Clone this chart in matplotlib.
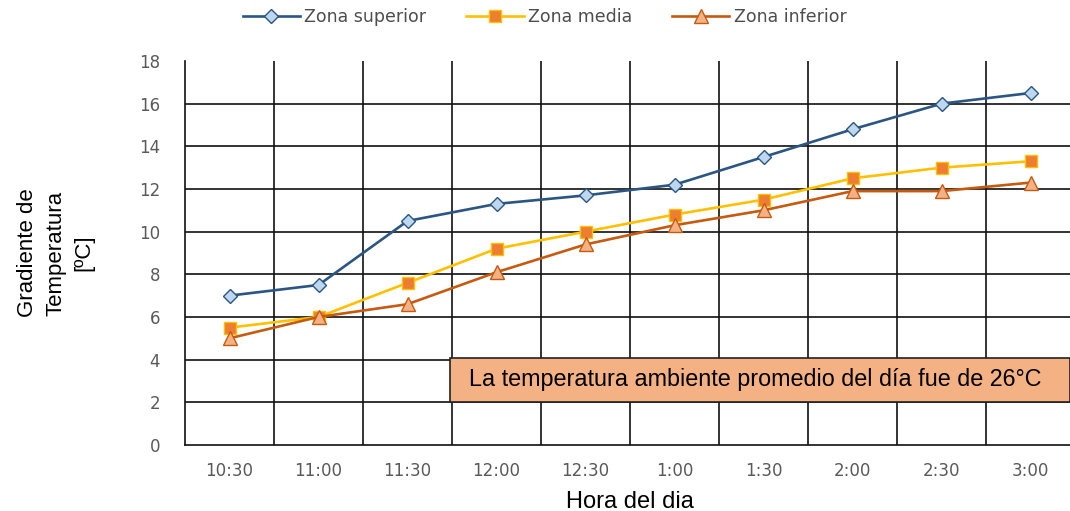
import matplotlib.pyplot as plt
import numpy as np

horas = ["10:30", "11:00", "11:30", "12:00", "12:30", "1:00", "1:30", "2:00", "2:30", "3:00"]
zona_superior = [7.0, 7.5, 10.5, 11.3, 11.7, 12.2, 13.5, 14.8, 16.0, 16.5]
zona_media = [5.5, 6.0, 7.6, 9.2, 10.0, 10.8, 11.5, 12.5, 13.0, 13.3]
zona_inferior = [5.0, 6.0, 6.6, 8.1, 9.4, 10.3, 11.0, 11.9, 11.9, 12.3]

fig = plt.figure(figsize=(10.7, 5.11), dpi=100)
ax = fig.add_axes([0.1729, 0.1292, 0.832, 0.7515])

x = np.arange(len(horas))
ax.plot(x, zona_superior, color="#2B5582", lw=1.9, marker="D", ms=7.5,
        mfc="#BDD7EE", mec="#2B5582", mew=1.0, label="Zona superior", zorder=5)
ax.plot(x, zona_media, color="#FFC000", lw=1.9, marker="s", ms=8.5,
        mfc="#ED7D31", mec="#FFC000", mew=1.0, label="Zona media", zorder=5)
ax.plot(x, zona_inferior, color="#C55A11", lw=1.9, marker="^", ms=10,
        mfc="#F4B183", mec="#C55A11", mew=1.0, label="Zona inferior", zorder=5)

ax.set_xlim(-0.5, len(horas) - 0.5)
ax.set_ylim(0, 18)
ax.set_yticks(range(0, 19, 2))
ax.set_xticks(x)
ax.set_xticklabels(horas)
ax.set_xticks(np.arange(0.5, len(horas) - 0.5, 1), minor=True)

# grilla negra: horizontales en cada 2, verticales entre categorias
for yv in range(2, 17, 2):
    ax.axhline(yv, color="#111111", lw=1.2, zorder=1)
ax.grid(True, which="minor", axis="x", color="#111111", lw=1.2, zorder=1)

for s in ["top", "right"]:
    ax.spines[s].set_visible(False)
for s in ["left", "bottom"]:
    ax.spines[s].set_color("#111111")
    ax.spines[s].set_linewidth(1.2)

ax.tick_params(which="both", length=0)
ax.tick_params(axis="y", pad=18, labelsize=12, labelcolor="#595959")
ax.tick_params(axis="x", pad=12, labelsize=12, labelcolor="#595959")

ax.set_xlabel("Hora del dia", family="Liberation Sans", fontsize=17, labelpad=8)
fig.text(0.052, 0.505, "Gradiente de\nTemperatura\n[ºC]", rotation=90,
         family="Liberation Sans", fontsize=16, ha="center", va="center",
         linespacing=1.45, multialignment="center")

# cuadro con la nota de temperatura ambiente
box = plt.Rectangle((2.48, 2.0), 6.96, 2.07, facecolor="#F4B183",
                    edgecolor="#222222", lw=1.2, zorder=5, clip_on=False)
ax.add_patch(box)
ax.text(2.48 + 6.96 / 2 - 0.05, 3.05, "La temperatura ambiente promedio del día fue de 26°C",
        family="Liberation Sans", fontsize=16.8, ha="center", va="center", zorder=6)

fig.legend(loc="center", bbox_to_anchor=(0.509, 0.966), ncol=3, frameon=False,
           fontsize=12.5, handlelength=3.3, handletextpad=0.25, columnspacing=2.3,
           labelcolor="#4d4d4d")

plt.savefig("out.png", dpi=100)
